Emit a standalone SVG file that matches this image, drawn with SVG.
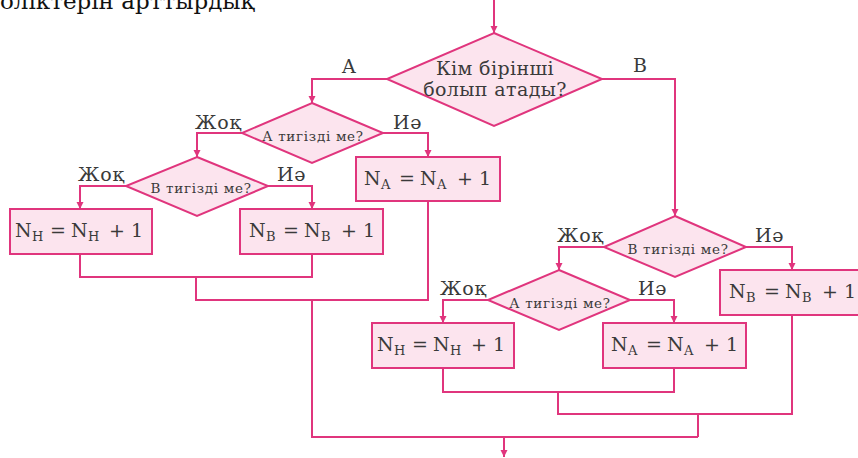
<svg xmlns="http://www.w3.org/2000/svg" width="858" height="458" viewBox="0 0 858 458">
<style>
  .shape { fill: #fce4ee; stroke: #e0357d; stroke-width: 2; }
  .conn { fill: none; stroke: #e0357d; stroke-width: 2; }
  .t { fill: #3a3a3a; }
  .lbl { font-size: 19px; letter-spacing: 0.8px; }
  .q { font-size: 13.5px; text-anchor: middle; letter-spacing: 0.7px; }
  .big { font-size: 19px; text-anchor: middle; letter-spacing: 0.4px; }
  .eq { font-size: 19px; }
  .sub { font-size: 13px; }
</style>
<defs>
  <marker id="arr" viewBox="0 0 10 10" refX="10" refY="5" markerWidth="7" markerHeight="9" markerUnits="userSpaceOnUse" orient="auto">
    <path d="M0,0 L10,5 L0,10 z" fill="#e0357d"/>
  </marker>
</defs>
<rect width="858" height="458" fill="#ffffff"/>
<g font-family="'DejaVu Serif', 'Liberation Serif', serif">
<text x="0" y="9" font-size="23" fill="#111">олiктерiн арттырдық</text>

<g id="connectors">
  <path class="conn" d="M494,0 V33" marker-end="url(#arr)"/>
  <path class="conn" d="M387,79 H312 V103" marker-end="url(#arr)"/>
  <path class="conn" d="M602,79 H675 V216" marker-end="url(#arr)"/>
  <path class="conn" d="M242,133 H197 V157" marker-end="url(#arr)"/>
  <path class="conn" d="M383,133 H428 V157" marker-end="url(#arr)"/>
  <path class="conn" d="M126,186 H80 V209" marker-end="url(#arr)"/>
  <path class="conn" d="M268,186 H312 V209" marker-end="url(#arr)"/>
  <path class="conn" d="M80,254 V277 H312 V254"/>
  <path class="conn" d="M196,277 V300 H428 V201"/>
  <path class="conn" d="M312,300 V437 H698"/>
  <path class="conn" d="M604,247 H559 V270" marker-end="url(#arr)"/>
  <path class="conn" d="M746,247 H792 V270" marker-end="url(#arr)"/>
  <path class="conn" d="M488,300 H443 V323" marker-end="url(#arr)"/>
  <path class="conn" d="M630,300 H674 V323" marker-end="url(#arr)"/>
  <path class="conn" d="M443,368 V392 H674 V368"/>
  <path class="conn" d="M558,392 V414 H792 V315"/>
  <path class="conn" d="M698,414 V437"/>
  <path class="conn" d="M504,437 V457" marker-end="url(#arr)"/>
</g>

<g id="labels">
  <text class="t lbl" x="342" y="73">A</text>
  <text class="t lbl" x="633" y="72">B</text>
  <text class="t lbl" x="195" y="129">Жоқ</text>
  <text class="t lbl" x="393" y="129">Иә</text>
  <text class="t lbl" x="78" y="181">Жоқ</text>
  <text class="t lbl" x="277" y="181">Иә</text>
  <text class="t lbl" x="557" y="242">Жоқ</text>
  <text class="t lbl" x="755" y="242">Иә</text>
  <text class="t lbl" x="440" y="295">Жоқ</text>
  <text class="t lbl" x="638" y="295">Иә</text>
</g>

<g id="d_main">
  <polygon class="shape" points="494,33 602,79 494,126 387,79"/>
  <text class="t big" x="495" y="75">Кім бірінші</text>
  <text class="t big" x="495" y="96">болып атады?</text>
</g>
<g id="d_a1">
  <polygon class="shape" points="312,103 383,133 312,163 242,133"/>
  <text class="t q" x="313" y="141">А тигізді ме?</text>
</g>
<g id="d_b1">
  <polygon class="shape" points="197,157 268,186 197,216 126,186"/>
  <text class="t q" x="201" y="193">В тигізді ме?</text>
</g>
<g id="d_b2">
  <polygon class="shape" points="675,216 746,247 675,277 604,247"/>
  <text class="t q" x="678" y="254">В тигізді ме?</text>
</g>
<g id="d_a2">
  <polygon class="shape" points="559,270 630,300 559,330 488,300"/>
  <text class="t q" x="560" y="308">А тигізді ме?</text>
</g>

<g id="box_nh1" transform="translate(10,209)">
  <rect class="shape" x="0" y="0" width="142" height="45"/>
  <text class="t eq" y="28"><tspan x="5">N</tspan><tspan class="sub" x="22" dy="4">H</tspan><tspan x="40" dy="-4">=</tspan><tspan x="61">N</tspan><tspan class="sub" x="78" dy="4">H</tspan><tspan x="99" dy="-4">+</tspan><tspan x="121">1</tspan></text>
</g>
<g id="box_nb1" transform="translate(240,209)">
  <rect class="shape" x="0" y="0" width="143" height="45"/>
  <text class="t eq" y="28"><tspan x="9">N</tspan><tspan class="sub" x="26" dy="4">B</tspan><tspan x="43" dy="-4">=</tspan><tspan x="64">N</tspan><tspan class="sub" x="81" dy="4">B</tspan><tspan x="101" dy="-4">+</tspan><tspan x="123">1</tspan></text>
</g>
<g id="box_na1" transform="translate(356,157)">
  <rect class="shape" x="0" y="0" width="144" height="44"/>
  <text class="t eq" y="28"><tspan x="8">N</tspan><tspan class="sub" x="25" dy="4">A</tspan><tspan x="43" dy="-4">=</tspan><tspan x="64">N</tspan><tspan class="sub" x="81" dy="4">A</tspan><tspan x="101" dy="-4">+</tspan><tspan x="123">1</tspan></text>
</g>
<g id="box_nh2" transform="translate(372,323)">
  <rect class="shape" x="0" y="0" width="142" height="45"/>
  <text class="t eq" y="28"><tspan x="5">N</tspan><tspan class="sub" x="22" dy="4">H</tspan><tspan x="40" dy="-4">=</tspan><tspan x="61">N</tspan><tspan class="sub" x="78" dy="4">H</tspan><tspan x="99" dy="-4">+</tspan><tspan x="121">1</tspan></text>
</g>
<g id="box_na2" transform="translate(603,323)">
  <rect class="shape" x="0" y="0" width="143" height="45"/>
  <text class="t eq" y="28"><tspan x="8">N</tspan><tspan class="sub" x="25" dy="4">A</tspan><tspan x="43" dy="-4">=</tspan><tspan x="64">N</tspan><tspan class="sub" x="81" dy="4">A</tspan><tspan x="101" dy="-4">+</tspan><tspan x="123">1</tspan></text>
</g>
<g id="box_nb2" transform="translate(720,270)">
  <rect class="shape" x="0" y="0" width="143" height="45"/>
  <text class="t eq" y="28"><tspan x="9">N</tspan><tspan class="sub" x="26" dy="4">B</tspan><tspan x="44" dy="-4">=</tspan><tspan x="65">N</tspan><tspan class="sub" x="82" dy="4">B</tspan><tspan x="102" dy="-4">+</tspan><tspan x="124">1</tspan></text>
</g>
</g>
</svg>
